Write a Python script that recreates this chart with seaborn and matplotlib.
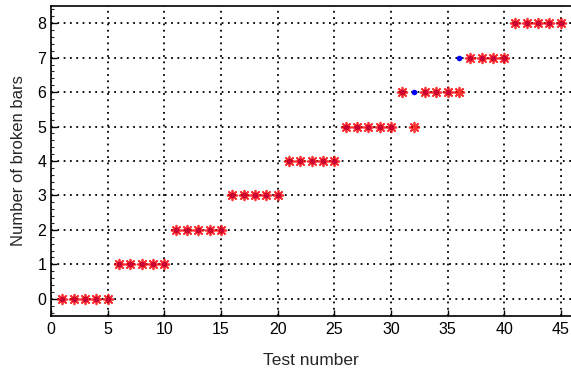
import matplotlib
matplotlib.use("Agg")
import matplotlib.pyplot as plt
import seaborn as sns
import pandas as pd
from matplotlib.ticker import MultipleLocator

test_number = list(range(1, 46))
actual_bars = [0]*5 + [1]*5 + [2]*5 + [3]*5 + [4]*5 + [5]*5 + [6]*5 + [7]*5 + [8]*5
predicted_bars = [0]*5 + [1]*5 + [2]*5 + [3]*5 + [4]*5 + [5]*5 + [6, 5, 6, 6, 6] + [6, 7, 7, 7, 7] + [8]*5
x_ticks = [0, 5, 10, 15, 20, 25, 30, 35, 40, 45]
y_ticks = [0, 1, 2, 3, 4, 5, 6, 7, 8]

df = pd.DataFrame({"test": test_number, "actual": actual_bars, "pred": predicted_bars})

sns.set_style("white")
plt.rcParams['font.family'] = ['Liberation Sans', 'DejaVu Sans']

fig = plt.figure(figsize=(5.71, 3.70), dpi=100)
ax = fig.add_axes([51/571, 54/370, (571-51)/571, (316-6)/370])

sns.scatterplot(data=df, x="test", y="actual", ax=ax, color="#0000ff", s=16,
                linewidth=0, zorder=3)
sns.scatterplot(data=df, x="test", y="pred", ax=ax, color="#ff0000", marker=(8, 2, 0),
                s=48, linewidth=1.3, zorder=4, alpha=0.8)

ax.set_xlim(0, 45.9)
ax.set_ylim(-0.5, 8.5)
ax.set_xticks(x_ticks)
ax.set_yticks(y_ticks)
ax.yaxis.set_minor_locator(MultipleLocator(0.2))
ax.grid(True, which="major", color="black", linestyle=(0, (1, 2.5)), linewidth=1.3)
ax.tick_params(which="major", direction="in", length=4, width=1, labelsize=11.5,
               colors="black", bottom=True, left=True)
ax.tick_params(which="minor", direction="in", length=2, width=0.8, left=True)
ax.tick_params(axis="x", pad=4)
for s in ["left", "bottom", "top"]:
    ax.spines[s].set_visible(True)
    ax.spines[s].set_color("black")
    ax.spines[s].set_linewidth(1.2)
ax.spines["right"].set_visible(False)

ax.set_xlabel("Test number", fontsize=12.5, labelpad=12)
ax.set_ylabel("Number of broken bars", fontsize=12, labelpad=8)

fig.savefig("out.png", dpi=100)
